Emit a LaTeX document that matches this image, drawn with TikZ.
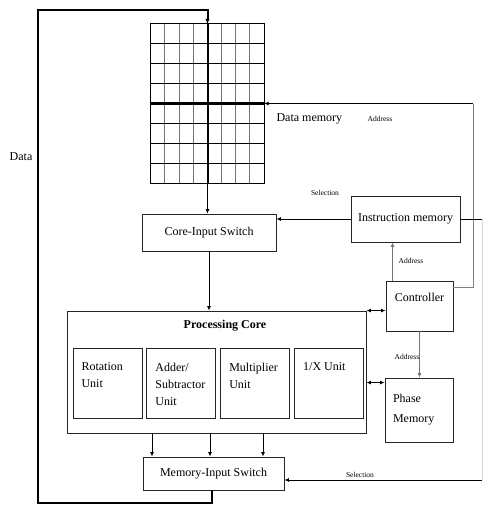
\documentclass[tikz,border=0pt]{standalone}
\usepackage{fontspec}
\setmainfont{Liberation Serif}
\usetikzlibrary{arrows.meta,positioning,calc}
\tikzset{
  box/.style      ={draw=black!85,line width=0.9pt,align=center,inner sep=0pt},
  unitbox/.style  ={draw=black!85,line width=0.9pt,inner sep=0pt,minimum width=69pt,minimum height=70pt,
                    font=\fontsize{12}{17}\selectfont},
  arrow/.style    ={-{Latex[length=4.5pt,width=4pt]},line width=0.8pt},
  dblarrow/.style ={{Latex[length=4.5pt,width=4pt]}-{Latex[length=4.5pt,width=4pt]},line width=0.8pt},
  tag/.style      ={font=\fontsize{7.5}{8}\selectfont,inner sep=1pt},
  dataline/.style ={line width=2pt},
  gridc/.style    ={line width=2.6pt},
  gridv/.style    ={draw=black!55,line width=1pt},
  gridh/.style    ={draw=black,line width=0.8pt}
}
\newcommand{\unittext}[1]{\parbox[c][40pt][t]{52pt}{\raggedright #1}}

\begin{document}
\begin{tikzpicture}[x=1pt,y=-1pt,font=\fontsize{12}{14}\selectfont]
    \path[use as bounding box,fill=white] (0,0) rectangle (487,506);
    \node[minimum width=113pt,minimum height=159pt,inner sep=0pt] (dm) at (207.5,103.5) {};
    \foreach \i in {1,2,3,5,6,7}
      \draw[gridv] ($(dm.north west)+(\i*14.125,0)$) -- ($(dm.south west)+(\i*14.125,0)$);
    \foreach \i in {1,2,3,5,6,7}
      \draw[gridh] ($(dm.north west)+(0,\i*19.875)$) -- ($(dm.north east)+(0,\i*19.875)$);
    \draw[gridh] (dm.north west) rectangle (dm.south east);
    \draw[dataline] (dm.north) -- (dm.south);
    \draw[gridc] (dm.west) -- (dm.east);
    \node[anchor=west] (ldm) at (273,119) {Data memory};
    \node[box,minimum width=134pt,minimum height=37pt] (cis) at (209,232.5) {Core-Input Switch};
    \node[box,minimum width=109pt,minimum height=46pt] (im) at (405.5,219) {Instruction memory};
    \node[box,minimum width=67pt,minimum height=50pt,text depth=18pt] (ctrl) at (419.5,306) {Controller};
    \node[box,minimum width=299pt,minimum height=122pt] (pc) at (216.5,372) {};
    \node[font=\fontsize{12}{14}\selectfont\bfseries] (pct) at (225,326) {Processing Core};
    \node[unitbox] (rot) at (107.5,383) {\unittext{Rotation\\Unit}};
    \node[unitbox,right=4pt of rot] (add) {\unittext{Adder/\\Subtractor\\Unit}};
    \node[unitbox,right=4pt of add] (mul) {\unittext{Multiplier\\Unit}};
    \node[unitbox,right=4pt of mul] (inv) {\unittext{1/X Unit}};
    \node[box,minimum width=68pt,minimum height=64pt,align=left,text width=52pt,
          font=\fontsize{12}{20}\selectfont] (pm) at (419,410) {Phase\\Memory};
    \node[box,minimum width=141pt,minimum height=33pt] (mis) at (213.5,473.5) {Memory-Input Switch};
    \node (ldata) at (21,157) {Data};
    \node[tag] (lda) at (380,119) {Address};
    \node[tag] (lsa) at (325,193) {Selection};
    \node[tag] (lab) at (411,261) {Address};
    \node[tag] (lpa) at (407,357) {Address};
    \node[tag] (lsb) at (360,475) {Selection};
    \coordinate (lb) at (38,503);
    \coordinate (lt) at (38,10);
    \coordinate (ar) at (473,103.5);
    \coordinate (sr) at (482,480);
    \coordinate (ca) at ($(ctrl.north west)+(7,0)$);
    \coordinate (pa) at ($(pm.north west)+(0,5)$);
    \draw[dataline,-{Latex[length=5pt,width=4.5pt]}] ($(mis.south)+(-1.5,0)$) |- (lb) -- (lt) -| (dm.north);
    \draw[arrow] (dm.south) -- (dm.south |- cis.north);
    \draw[arrow] (cis.south |- cis.south) -- (cis.south |- pc.north);
    \draw[arrow] (im.west) -- (im.west -| cis.east);
    \draw[arrow,draw=black!55] (ca) -- (ca |- im.south);
    \draw[draw=black!50,line width=0.8pt] ($(ctrl.north east)+(0,7)$) -| (ar);
    \draw[arrow] (ar) -- (dm.east);
    \draw[dblarrow] (pc.north east) -- (pc.north east -| ctrl.west);
    \draw[dblarrow] (pa -| pc.east) -- (pa);
    \draw[arrow,draw=black!55] (ctrl.south) -- (ctrl.south |- pm.north);
    \foreach \x in {152,210,263}
      \draw[arrow] (\x,0 |- pc.south) -- (\x,0 |- mis.north);
    \draw[line width=0.8pt] (im.east) -- (im.east -| sr);
    \draw[draw=black!15,line width=0.8pt] (im.east -| sr) -- (sr);
    \draw[arrow] (sr) -- (sr -| mis.east);
  \end{tikzpicture}
\end{document}
